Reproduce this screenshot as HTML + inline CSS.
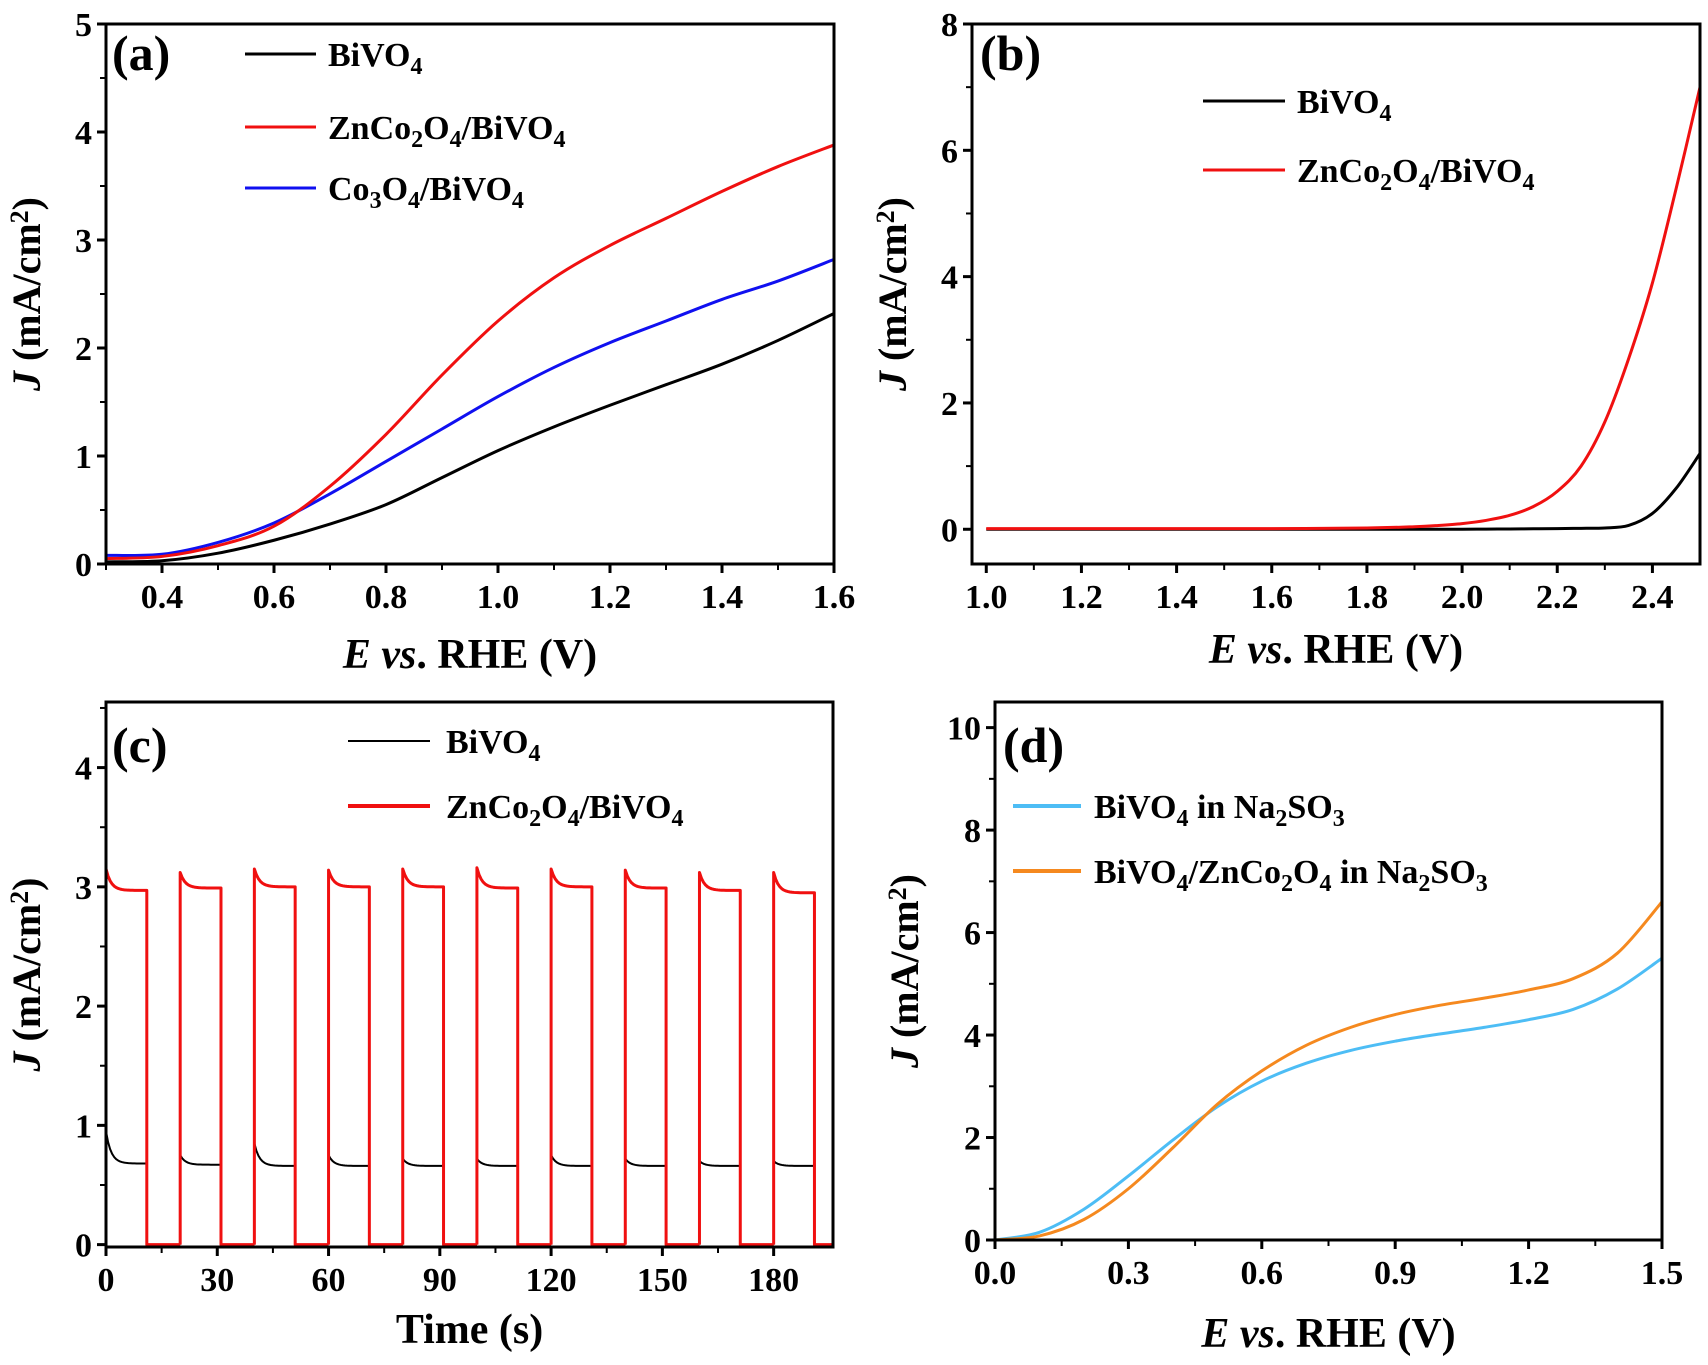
<!DOCTYPE html>
<html><head><meta charset="utf-8"><style>
body{margin:0;background:#fff;}
svg{display:block;font-family:"Liberation Serif",serif;font-weight:bold;}
</style></head><body>
<svg id="fig" width="1708" height="1365" viewBox="0 0 1708 1365"></svg>
<script>
// ---- data ----
const aX=[0.3,0.4,0.5,0.6,0.7,0.8,0.9,1.0,1.1,1.2,1.3,1.4,1.5,1.6];
const aBiVO4=[0.02,0.03,0.1,0.22,0.37,0.55,0.8,1.05,1.27,1.47,1.66,1.85,2.07,2.32];
const aZnCo=[0.05,0.07,0.17,0.35,0.72,1.2,1.75,2.25,2.65,2.95,3.2,3.45,3.68,3.88];
const aCo3O4=[0.08,0.09,0.2,0.38,0.65,0.95,1.25,1.55,1.82,2.05,2.25,2.45,2.62,2.82];
const bX=[1.0,1.2,1.4,1.6,1.8,1.9,1.95,2.0,2.05,2.1,2.15,2.2,2.25,2.3,2.35,2.4,2.45,2.5];
const bBiVO4=[0,0,0,0,0,0,0,0,0.003,0.005,0.008,0.01,0.015,0.02,0.06,0.25,0.65,1.2];
const bZnCo=[0.01,0.01,0.01,0.01,0.02,0.04,0.06,0.09,0.14,0.22,0.36,0.6,1.0,1.7,2.7,3.9,5.4,7.0];
const cOn=[0,20,40,60,80,100,120,140,160,180];
const cOff=[11,31,51,71,91,111,131,151,171,191];
const cRedPeak=[3.15,3.12,3.15,3.14,3.15,3.16,3.15,3.14,3.12,3.12];
const cRedSteady=[2.97,2.99,3.0,3.0,3.0,2.99,3.0,2.99,2.97,2.95];
const cBlkPeak=[0.95,0.75,0.85,0.75,0.72,0.72,0.75,0.72,0.7,0.7];
const cBlkSteady=[0.68,0.67,0.66,0.66,0.66,0.66,0.66,0.66,0.66,0.66];
const dX=[0,0.1,0.2,0.3,0.4,0.5,0.6,0.7,0.8,0.9,1.0,1.1,1.2,1.3,1.4,1.5];
const dBiVO4=[0,0.15,0.6,1.25,1.95,2.6,3.1,3.45,3.7,3.88,4.02,4.15,4.3,4.5,4.9,5.5];
const dZnCo=[0,0.08,0.4,1.0,1.8,2.65,3.3,3.8,4.15,4.4,4.58,4.72,4.88,5.1,5.6,6.6];
const aTicks=[0.4,0.6,0.8,1.0,1.2,1.4,1.6], aYT=[0,1,2,3,4,5];
const bTicks=[1.0,1.2,1.4,1.6,1.8,2.0,2.2,2.4], bYT=[0,2,4,6,8];
const cTicks=[0,30,60,90,120,150,180], cYT=[0,1,2,3,4];
const dTicks=[0,0.3,0.6,0.9,1.2,1.5], dYT=[0,2,4,6,8,10];

const NS="http://www.w3.org/2000/svg", svg=document.getElementById('fig');
function el(t,a,p){const e=document.createElementNS(NS,t);for(const k in a)e.setAttribute(k,a[k]);(p||svg).appendChild(e);return e;}
function mk(x0,x1,px0,px1){return v=>px0+(v-x0)/(x1-x0)*(px1-px0);}
function smooth(pts){let d="M"+pts[0][0]+","+pts[0][1];for(let i=0;i<pts.length-1;i++){const p0=pts[i-1]||pts[i],p1=pts[i],p2=pts[i+1],p3=pts[i+2]||p2;
d+=` C${p1[0]+(p2[0]-p0[0])/6},${p1[1]+(p2[1]-p0[1])/6} ${p2[0]-(p3[0]-p1[0])/6},${p2[1]-(p3[1]-p1[1])/6} ${p2[0]},${p2[1]}`;}return d;}
function panel(o){
 const g=el('g',{});
 
 
 const X=mk(o.xr[0],o.xr[1],o.L,o.R),Y=mk(o.yr[0],o.yr[1],o.B,o.T);
 const dec=o.dec;
 o.xt.forEach((v,i)=>{const x=X(v);el('line',{x1:x,x2:x,y1:o.B,y2:o.B+9,stroke:'#000','stroke-width':3},g);
  if(i<o.xt.length-1&&o.minor){const xm=X(v+(o.xt[1]-o.xt[0])/2);el('line',{x1:xm,x2:xm,y1:o.B,y2:o.B+6,stroke:'#000','stroke-width':2},g);}
  if(o.minorBefore&&i==0){const xm=X(v-(o.xt[1]-o.xt[0])/2);if(xm>=o.L-1)el('line',{x1:xm,x2:xm,y1:o.B,y2:o.B+6,stroke:'#000','stroke-width':2},g);}
  const t=el('text',{x:x,y:o.B+44,'text-anchor':'middle','font-size':34},g);t.textContent=dec==null?v:v.toFixed(dec);
  });
 o.yt.forEach(v=>{const y=Y(v);el('line',{x1:o.L-9,x2:o.L,y1:y,y2:y,stroke:'#000','stroke-width':3},g);
  const ym=Y(v+(o.yt[1]-o.yt[0])/2);if(ym>o.T)el('line',{x1:o.L-6,x2:o.L,y1:ym,y2:ym,stroke:'#000','stroke-width':2},g);
  const t=el('text',{x:o.L-14,y:y+12,'text-anchor':'end','font-size':34},g);t.textContent=v;
  });
 const clip='c'+o.name;const cp=el('clipPath',{id:clip},g);el('rect',{x:o.L,y:o.T,width:o.R-o.L,height:o.B-o.T},cp);
 o.series.forEach(s=>{let d;
  if(s.path)d=s.path(X,Y);else d=smooth(s.x.map((v,i)=>[X(v),Y(s.y[i])]));
  const p=el('path',{d:d,fill:'none',stroke:s.c,'stroke-width':s.w||3,'clip-path':`url(#${clip})`,'stroke-linejoin':'round'},g);
  });
 const f=el('rect',{x:o.L,y:o.T,width:o.R-o.L,height:o.B-o.T,fill:'none',stroke:'#000','stroke-width':3},g);
 
 const pl=el('text',{x:o.lab[0],y:o.lab[1],'font-size':50},g);pl.textContent=o.label;
 
 o.legend.forEach(l=>{const lg=el('g',{},g);
  
  el('line',{x1:l.x1,x2:l.x2,y1:l.y,y2:l.y,stroke:l.c,'stroke-width':l.w||3},lg);
  const t=el('text',{x:l.tx,y:l.y+12,'font-size':34},lg);t.innerHTML=l.t;});
 const yt=el('text',{transform:`translate(${o.ytx},${(o.T+o.B)/2}) rotate(-90)`,'text-anchor':'middle','font-size':40},g);
 yt.innerHTML='<tspan font-style="italic">J</tspan> (mA/cm<tspan baseline-shift="12" font-size="26">2</tspan>)';
 
 const xt=el('text',{x:(o.L+o.R)/2,y:o.xty,'text-anchor':'middle','font-size':42},g);
 xt.innerHTML=o.xtitle;
}
const sub=s=>`<tspan baseline-shift="-8" font-size="24">${s}</tspan>`;
const BiVO4=`BiVO${sub(4)}`, ZnCo=`ZnCo${sub(2)}O${sub(4)}`, Co3=`Co${sub(3)}O${sub(4)}`;
const Evs='<tspan font-style="italic">E vs</tspan>. RHE (V)';
panel({name:'panel-a',L:106,R:834,T:24,B:564,xr:[0.3,1.6],yr:[0,5],xt:aTicks,yt:aYT,dec:1,minor:true,minorBefore:true,
 series:[{x:aX,y:aBiVO4,c:'#000',n:'line-bivo4'},{x:aX,y:aCo3O4,c:'#1010f0',n:'line-co3o4-bivo4'},{x:aX,y:aZnCo,c:'#f01010',n:'line-znco2o4-bivo4'}],
 lab:[112,70],label:'(a)',legend:[{x1:245,x2:316,y:54,c:'#000',tx:328,t:BiVO4},{x1:245,x2:316,y:127,c:'#f01010',tx:328,t:ZnCo+'/'+BiVO4},{x1:245,x2:316,y:188,c:'#1010f0',tx:328,t:Co3+'/'+BiVO4}],
 ytx:40,xty:668,xtitle:Evs});
panel({name:'panel-b',L:972,R:1700,T:24,B:564,xr:[0.97,2.5],yr:[-0.55,8],xt:bTicks,yt:bYT,dec:1,minor:true,
 series:[{x:bX,y:bBiVO4,c:'#000',n:'line-bivo4'},{x:bX,y:bZnCo,c:'#f01010',n:'line-znco2o4-bivo4'}],
 lab:[980,70],label:'(b)',legend:[{x1:1203,x2:1285,y:101,c:'#000',tx:1297,t:BiVO4},{x1:1203,x2:1285,y:170,c:'#f01010',tx:1297,t:ZnCo+'/'+BiVO4}],
 ytx:906,xty:663,xtitle:Evs});
function wave(peak,steady,X,Y){let d="";cOn.forEach((t0,i)=>{const t1=cOff[i];
 d+=`M${X(t0)},${Y(0)} L${X(t0)},${Y(peak[i])}`;for(let k=1;k<=20;k++){const t=t0+(t1-t0)*k/20;const v=steady[i]+(peak[i]-steady[i])*Math.exp(-k/2.5);d+=` L${X(t)},${Y(v)}`;}
 d+=` L${X(t1)},${Y(0)} L${X(cOn[i+1]!==undefined?cOn[i+1]:196)},${Y(0)}`;});return d;}
panel({name:'panel-c',L:106,R:833,T:702,B:1247,xr:[0,196],yr:[-0.02,4.55],xt:cTicks,yt:cYT,minor:true,
 series:[{c:'#000',w:2,n:'line-bivo4',path:(X,Y)=>wave(cBlkPeak,cBlkSteady,X,Y)},{c:'#f01010',w:3,n:'line-znco2o4-bivo4',path:(X,Y)=>wave(cRedPeak,cRedSteady,X,Y)}],
 lab:[112,762],label:'(c)',legend:[{x1:348,x2:430,y:741,c:'#000',w:2,tx:446,t:BiVO4},{x1:348,x2:430,y:806,c:'#f01010',w:4,tx:446,t:ZnCo+'/'+BiVO4}],
 ytx:40,xty:1343,xtitle:'Time (s)'});
panel({name:'panel-d',L:995,R:1662,T:702,B:1240,xr:[0,1.5],yr:[0,10.5],xt:dTicks,yt:dYT,dec:1,minor:true,
 series:[{x:dX,y:dBiVO4,c:'#4dbdf5',n:'line-bivo4-na2so3'},{x:dX,y:dZnCo,c:'#f5891f',n:'line-bivo4-znco2o4-na2so3'}],
 lab:[1003,762],label:'(d)',legend:[{x1:1013,x2:1081,y:806,c:'#4dbdf5',w:4,tx:1094,t:BiVO4+' in Na'+sub(2)+'SO'+sub(3)},{x1:1013,x2:1081,y:871,c:'#f5891f',w:4,tx:1094,t:BiVO4+'/'+ZnCo+' in Na'+sub(2)+'SO'+sub(3)}],
 ytx:918,xty:1347,xtitle:Evs});
</script>
</body></html>
